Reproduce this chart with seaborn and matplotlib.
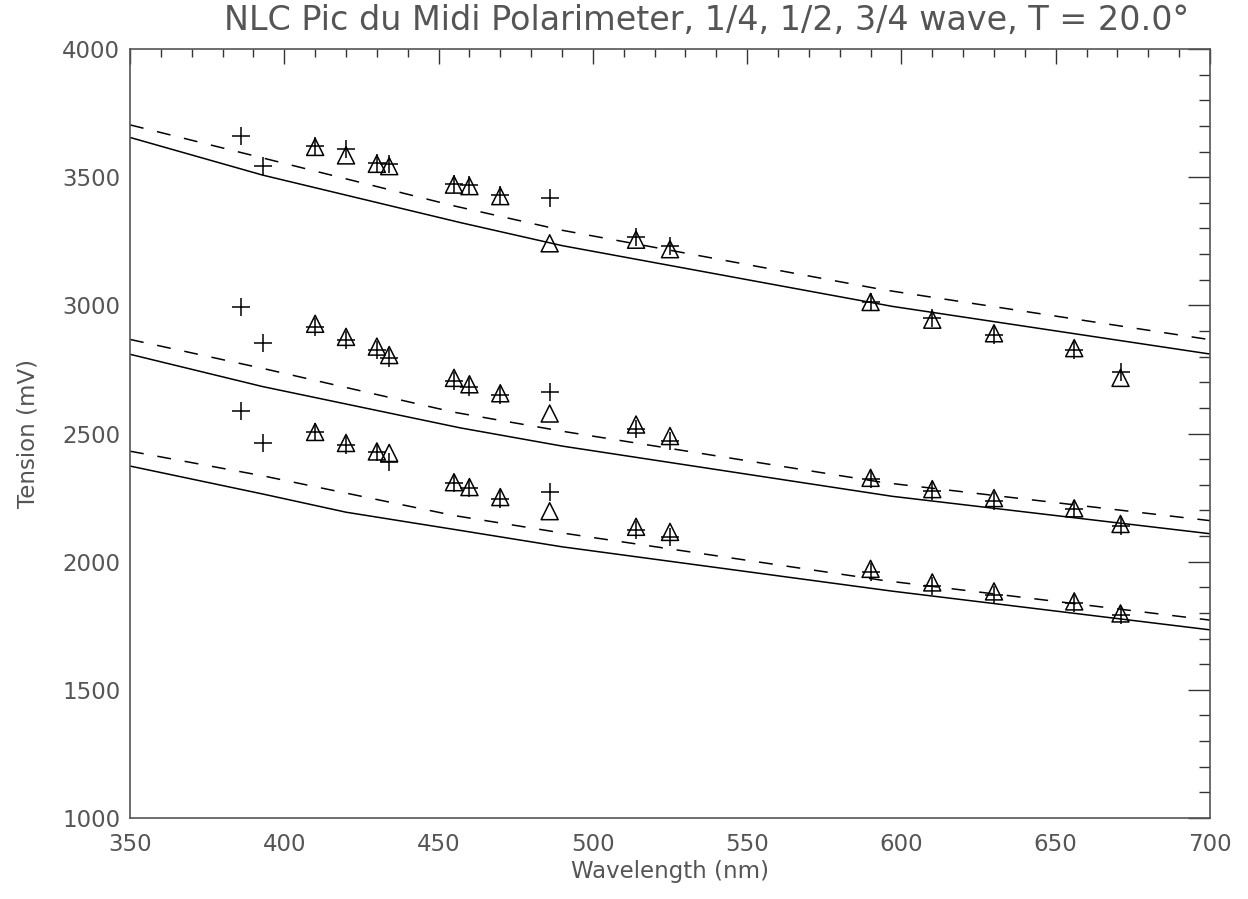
import matplotlib
matplotlib.use("Agg")
import matplotlib.pyplot as plt
import seaborn as sns
from matplotlib.ticker import MultipleLocator

# wavelengths of the measured lines (nm)
wavelength = [386, 393, 410, 420, 430, 434, 455, 460, 470, 486, 514, 525, 590, 610, 630, 656, 671]
tri_wavelength = wavelength[2:]

# measured tensions (mV), '+' symbols
plus_34 = [3660, 3545, 3620, 3608, 3556, 3550, 3473, 3469, 3430, 3420, 3267, 3232, 3013, 2950, 2884, 2826, 2740]
plus_12 = [2993, 2854, 2916, 2864, 2826, 2794, 2703, 2682, 2651, 2662, 2516, 2470, 2322, 2277, 2238, 2205, 2141]
plus_14 = [2588, 2464, 2504, 2457, 2426, 2388, 2306, 2286, 2244, 2270, 2122, 2097, 1961, 1907, 1869, 1837, 1792]

# measured tensions (mV), triangles
tri_34 = [3618, 3585, 3552, 3543, 3471, 3465, 3426, 3242, 3256, 3219, 3013, 2944, 2891, 2833, 2717]
tri_12 = [2928, 2877, 2839, 2806, 2717, 2692, 2657, 2578, 2535, 2490, 2327, 2283, 2248, 2208, 2147]
tri_14 = [2506, 2463, 2430, 2424, 2310, 2291, 2252, 2197, 2136, 2116, 1972, 1919, 1884, 1845, 1798]

# model curves
solid_wl = [350, 393, 457, 490, 597, 700]
solid_34 = [3655, 3508, 3323, 3233, 2996, 2810]
solid_12 = [2809, 2683, 2522, 2451, 2255, 2109]
solid_14_wl = [350, 393, 420, 457, 490, 597, 700]
solid_14 = [2373, 2264, 2193, 2122, 2058, 1885, 1734]

dash_wl = [350, 393, 455, 490, 594, 700]
dash_34 = [3704, 3575, 3388, 3293, 3061, 2866]
dash_12 = [2867, 2754, 2583, 2509, 2309, 2160]
dash_14 = [2431, 2335, 2180, 2112, 1927, 1772]

sns.set_theme(style="white")
plt.rcParams['font.family'] = ['DejaVu Sans']
plt.rcParams['lines.scale_dashes'] = False
txt = '#555555'

fig = plt.figure(figsize=(12.48, 8.99), dpi=100)
ax = fig.add_axes([130 / 1248, 1 - 818 / 899, 1080 / 1248, 769 / 899])

for x, y in [(solid_wl, solid_34), (solid_wl, solid_12), (solid_14_wl, solid_14)]:
    sns.lineplot(x=x, y=y, ax=ax, color='black', lw=1.1, sort=False, estimator=None)
for y in [dash_34, dash_12, dash_14]:
    sns.lineplot(x=dash_wl, y=y, ax=ax, color='black', lw=1.1, sort=False,
                 estimator=None, linestyle=(0, (10, 10)))

for y in [tri_34, tri_12, tri_14]:
    sns.scatterplot(x=tri_wavelength, y=y, ax=ax, marker='^', s=150,
                    facecolor='none', edgecolor='black', linewidth=1.1, zorder=3)
for y in [plus_34, plus_12, plus_14]:
    sns.scatterplot(x=wavelength, y=y, ax=ax, marker='+', s=150,
                    color='black', linewidth=1.1, zorder=4)

ax.set_xlim(350, 700)
ax.set_ylim(1000, 4000)
ax.xaxis.set_major_locator(MultipleLocator(50))
ax.xaxis.set_minor_locator(MultipleLocator(10))
ax.yaxis.set_major_locator(MultipleLocator(500))
ax.yaxis.set_minor_locator(MultipleLocator(100))

ax.tick_params(which='both', direction='in', top=True, right=True, colors='#333333',
               labelcolor=txt, labelsize=16.5, width=1)
ax.tick_params(axis='x', which='major', length=10.8, pad=11)
ax.tick_params(axis='x', which='minor', length=5.4)
ax.tick_params(axis='y', which='major', length=15.5, pad=7)
ax.tick_params(axis='y', which='minor', length=7.8)
for sp in ax.spines.values():
    sp.set_color('#555555')
    sp.set_linewidth(1.2)

ax.set_xlabel("Wavelength (nm)", fontsize=16.5, color=txt, labelpad=3)
ax.set_ylabel("Tension (mV)", fontsize=16.5, color=txt, labelpad=16)
fig.text(707 / 1248, 1 - 20 / 899, "NLC Pic du Midi Polarimeter, 1/4, 1/2, 3/4 wave, T = 20.0°",
         ha='center', va='center', fontsize=24, color=txt)

fig.savefig("out.png", dpi=100)
